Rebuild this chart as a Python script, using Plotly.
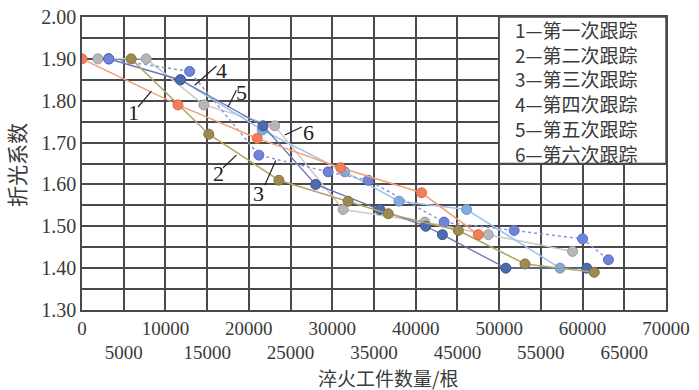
import plotly.graph_objects as go

# ---------------- data ----------------
s1_x = [0, 11500, 21000, 31000, 40700, 47500]
s1_y = [1.90, 1.79, 1.71, 1.64, 1.58, 1.48]

s2_x = [5900, 15200, 23600, 31900, 36700, 45100, 53100, 61400]
s2_y = [1.90, 1.72, 1.61, 1.56, 1.53, 1.49, 1.41, 1.39]

s3_x = [3200, 12900, 21200, 29500, 34300, 43400, 51800, 60000, 63100]
s3_y = [1.90, 1.87, 1.67, 1.63, 1.61, 1.51, 1.49, 1.47, 1.42]

s4_x = [3200, 11800, 21700, 28000, 35700, 41200, 43200, 50800, 60500]
s4_y = [1.90, 1.85, 1.74, 1.60, 1.54, 1.50, 1.48, 1.40, 1.40]

s5_x = [3200, 11800, 21600, 31500, 38000, 46100, 57300]
s5_y = [1.90, 1.85, 1.73, 1.63, 1.56, 1.54, 1.40]

s6_x = [1900, 7700, 14600, 23100, 31300, 41100, 48700, 58800]
s6_y = [1.90, 1.90, 1.79, 1.74, 1.54, 1.51, 1.48, 1.44]

series_names = ["1—第一次跟踪", "2—第二次跟踪", "3—第三次跟踪",
                "4—第四次跟踪", "5—第五次跟踪", "6—第六次跟踪"]

x_tick_vals = list(range(0, 70001, 5000))
x_tick_text = [("%d" % v) if (v // 5000) % 2 == 0 else "<br>%d" % v for v in x_tick_vals]
y_tick_vals = [round(1.30 + 0.05 * i, 2) for i in range(15)]
y_tick_text = [("%.2f" % v) if i % 2 == 0 else "" for i, v in enumerate(y_tick_vals)]

x_title = "淬火工件数量/根"
y_title = "折光系数"

# leader labels: (text, text_x, text_y, line_x0, line_y0, line_x1, line_y1)
leader_labels = [
    ("1", 6115, 1.773, 6715, 1.785, 8320, 1.823),
    ("4", 16715, 1.873, 13510, 1.837, 16115, 1.883),
    ("5", 19110, 1.819, 17505, 1.785, 18510, 1.825),
    ("6", 27095, 1.723, 24305, 1.718, 26340, 1.737),
    ("2", 16305, 1.626, 16905, 1.640, 18510, 1.670),
    ("3", 21100, 1.579, 21905, 1.598, 23225, 1.657),
]

# ---------------- styles ----------------
styles = [
    dict(line=dict(color="#F4A077", width=1.5, dash="solid"), mc="#F07E58", mb="#E06A45"),
    dict(line=dict(color="#B3A465", width=1.5, dash="solid"), mc="#9C8A52", mb="#85743F"),
    dict(line=dict(color="#8A96DA", width=1.5, dash="dot"), mc="#6F84D8", mb="#5A6EC0"),
    dict(line=dict(color="#6675B5", width=1.3, dash="solid"), mc="#4F6AAE", mb="#3D5590"),
    dict(line=dict(color="#A3C2EC", width=1.5, dash="solid"), mc="#7FAAE2", mb="#6A96D0"),
    dict(line=dict(color="#C9C9C9", width=1.5, dash="solid"), mc="#B6B6B6", mb="#9E9E9E"),
]

xs = [s1_x, s2_x, s3_x, s4_x, s5_x, s6_x]
ys = [s1_y, s2_y, s3_y, s4_y, s5_y, s6_y]

fig = go.Figure()
for i in [5, 4, 3, 2, 1, 0]:
    st = styles[i]
    fig.add_trace(go.Scatter(
        x=xs[i], y=ys[i], mode="lines+markers", name=series_names[i],
        line=st["line"],
        marker=dict(size=10, color=st["mc"], line=dict(color=st["mb"], width=1)),
        showlegend=False,
    ))

serif = "Liberation Serif"
cjk = "Noto Sans CJK SC"
grid_c = "#4a4a4a"
txt_c = "#3a3a3a"

# legend box
fig.add_shape(type="rect", xref="x", yref="y", x0=50000, x1=70000, y0=1.65, y1=2.00,
              fillcolor="white", line=dict(color=grid_c, width=1.5), layer="above")
fig.add_annotation(x=51700, y=1.823, xref="x", yref="y", text="<br>".join(series_names),
                   showarrow=False, xanchor="left", yanchor="middle", align="left",
                   font=dict(family=cjk, size=19, color=txt_c))

for t, tx, ty, lx0, ly0, lx1, ly1 in leader_labels:
    fig.add_shape(type="line", xref="x", yref="y", x0=lx0, y0=ly0, x1=lx1, y1=ly1,
                  line=dict(color="#222", width=1.2), layer="above")
    fig.add_annotation(x=tx, y=ty, xref="x", yref="y", text=t, showarrow=False,
                       xanchor="center", yanchor="middle",
                       font=dict(family=serif, size=22, color="#222"))

# axis titles
fig.add_annotation(x=0, y=0, xref="paper", yref="paper", text=x_title, showarrow=False,
                   xanchor="center", yanchor="middle", xshift=306, yshift=-67,
                   font=dict(family=cjk, size=19, color=txt_c))
fig.add_annotation(x=0, y=0.495, xref="paper", yref="paper", text=y_title, showarrow=False,
                   xanchor="center", yanchor="middle", xshift=-66, textangle=-90,
                   font=dict(family=cjk, size=21, color=txt_c))

fig.update_layout(
    width=699, height=390,
    margin=dict(l=82, r=33, t=17, b=80, autoexpand=False),
    paper_bgcolor="white", plot_bgcolor="white",
    font=dict(family=serif, color=txt_c),
    xaxis=dict(range=[0, 70000], tickvals=x_tick_vals, ticktext=x_tick_text,
               showgrid=True, gridcolor=grid_c, gridwidth=1.5,
               showline=True, linecolor=grid_c, linewidth=1.5, mirror=True,
               ticks="", zeroline=False, tickangle=0, automargin=False,
               tickfont=dict(family=serif, size=19, color=txt_c)),
    yaxis=dict(range=[1.30, 2.00], tickvals=y_tick_vals, ticktext=y_tick_text,
               showgrid=True, gridcolor=grid_c, gridwidth=1.5,
               showline=True, linecolor=grid_c, linewidth=1.5, mirror=True,
               ticks="", zeroline=False, automargin=False,
               tickfont=dict(family=serif, size=20, color=txt_c)),
)

fig.write_html("out.html", config={"displayModeBar": False},
               post_script="document.body.style.margin='0';")
